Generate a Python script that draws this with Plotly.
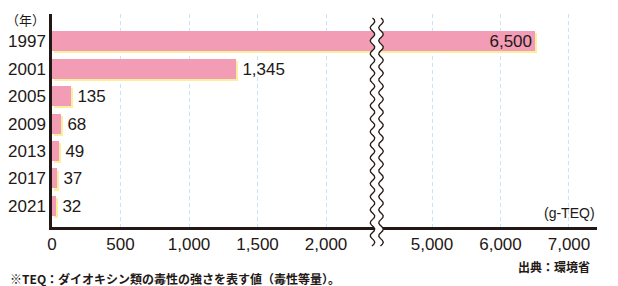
import math
import plotly.graph_objects as go

# ---- data ----
years = ["1997", "2001", "2005", "2009", "2013", "2017", "2021"]
values = [6500, 1345, 135, 68, 49, 37, 32]
value_labels = ["6,500", "1,345", "135", "68", "49", "37", "32"]
left_ticks = [0, 500, 1000, 1500, 2000]
right_ticks = [5000, 6000, 7000]
left_range = [0, 2372]
right_range = [4197, 7409]

# ---- layout geometry ----
W, H = 618, 286
ml, mr, mt, mb = 52, 21, 14, 59
pw = W - ml - mr
ph = H - mt - mb
break_px = 377
split = (break_px - ml) / pw

DARK = "#231815"
PINK = "#f29cb5"
YELLOW = "#fbef9e"
GRID = "#c6e5f6"
NUM_FONT = "Liberation Sans, Arial, sans-serif"
JP_FONT = "Noto Sans CJK JP, sans-serif"

bar_w = 0.73
shadow_dy = 0.075
left_scale = (break_px - ml) / (left_range[1] - left_range[0])
right_scale = (W - mr - break_px) / (right_range[1] - right_range[0])


def px(x):
    return (x - ml) / pw


def py(y):
    return (H - mb - y) / ph


fig = go.Figure()

# shadows
fig.add_trace(go.Bar(
    y=years, x=values, base=2 / left_scale, orientation="h",
    width=bar_w, offset=-bar_w / 2 + shadow_dy,
    marker=dict(color=YELLOW, line=dict(width=0)),
    xaxis="x", yaxis="y", hoverinfo="skip", showlegend=False))
fig.add_trace(go.Bar(
    y=years, x=values, base=2 / right_scale, orientation="h",
    width=bar_w, offset=-bar_w / 2 + shadow_dy,
    marker=dict(color=YELLOW, line=dict(width=0)),
    xaxis="x2", yaxis="y", hoverinfo="skip", showlegend=False))

# main bars
left_text = [t if v <= left_range[1] else "" for v, t in zip(values, value_labels)]
right_text = [t if v > left_range[1] else "" for v, t in zip(values, value_labels)]
fig.add_trace(go.Bar(
    y=years, x=values, orientation="h", width=bar_w, offset=-bar_w / 2,
    marker=dict(color=PINK, line=dict(width=0)),
    text=left_text, texttemplate="\u2009%{text}", textposition="outside",
    textfont=dict(family=NUM_FONT, size=17, color=DARK),
    cliponaxis=False, xaxis="x", yaxis="y", showlegend=False))
fig.add_trace(go.Bar(
    y=years, x=values, orientation="h", width=bar_w, offset=-bar_w / 2,
    marker=dict(color=PINK, line=dict(width=0)),
    text=right_text, textposition="inside", insidetextanchor="end",
    insidetextfont=dict(family=NUM_FONT, size=17, color=DARK),
    xaxis="x2", yaxis="y", showlegend=False))

for tr in fig.data:
    tr.update(constraintext="none")

axis_common = dict(
    showline=True, linecolor=DARK, linewidth=2.5,
    showgrid=True, gridcolor=GRID, gridwidth=1, griddash="4px,3px",
    zeroline=False, ticks="", tickformat=",", automargin=False,
    tickfont=dict(family=NUM_FONT, size=17, color=DARK),
    fixedrange=True,
)

fig.update_layout(
    width=W, height=H,
    margin=dict(l=ml, r=mr, t=mt, b=mb, pad=0, autoexpand=False),
    paper_bgcolor="white", plot_bgcolor="white",
    barmode="overlay", bargap=0,
    xaxis=dict(domain=[0, split], range=left_range, tickvals=left_ticks,
               anchor="y", **axis_common),
    xaxis2=dict(domain=[split, 1], range=right_range, tickvals=right_ticks,
                anchor="y", **axis_common),
    yaxis=dict(type="category", categoryorder="array", categoryarray=years,
               range=[6.77, -1.0], anchor="x", showline=True, linecolor=DARK,
               linewidth=2.5, showgrid=False, zeroline=False, ticks="",
               automargin=False, ticklabelstandoff=0,
               tickfont=dict(family=NUM_FONT, size=17, color=DARK),
               fixedrange=True),
    showlegend=False,
)


# ---- broken-axis marker (decoration) ----
def wave_points(x0, y0=18, y1=246, period=13.0, amp=2.3, n=120):
    pts = []
    for i in range(n + 1):
        yy = y0 + (y1 - y0) * i / n
        xx = x0 + amp * math.sin(2 * math.pi * (yy - y0) / period)
        pts.append((px(xx), py(yy)))
    return pts


wl = wave_points(372.5)
wr = wave_points(381.0)
poly = wl + list(reversed(wr))
fill_path = "M " + " L ".join(f"{x:.5f},{y:.5f}" for x, y in poly) + " Z"
fig.add_shape(type="path", path=fill_path, xref="paper", yref="paper",
              fillcolor="white", line=dict(width=0), layer="above")
for pts in (wl, wr):
    p = "M " + " L ".join(f"{x:.5f},{y:.5f}" for x, y in pts)
    fig.add_shape(type="path", path=p, xref="paper", yref="paper",
                  line=dict(color=DARK, width=1.3), layer="above")

# ---- annotations ----
fig.add_annotation(text="（年）", xref="paper", yref="paper", x=px(47), y=py(20),
                   xanchor="right", yanchor="middle", showarrow=False,
                   font=dict(family=JP_FONT, size=13, color=DARK))
fig.add_annotation(text="(g-TEQ)", xref="paper", yref="paper", x=px(597), y=py(213),
                   xanchor="right", yanchor="middle", showarrow=False,
                   font=dict(family=NUM_FONT, size=14, color=DARK))
fig.add_annotation(text="<b>出典：環境省</b>", xref="paper", yref="paper", x=px(592), y=py(266),
                   xanchor="right", yanchor="middle", showarrow=False,
                   font=dict(family=JP_FONT, size=12, color=DARK))
fig.add_annotation(text="<b>※TEQ：ダイオキシン類の毒性の強さを表す値（毒性等量）。</b>",
                   xref="paper", yref="paper", x=px(8), y=py(278),
                   xanchor="left", yanchor="middle", showarrow=False,
                   font=dict(family=JP_FONT, size=12, color=DARK))

fig.write_html("out.html")
